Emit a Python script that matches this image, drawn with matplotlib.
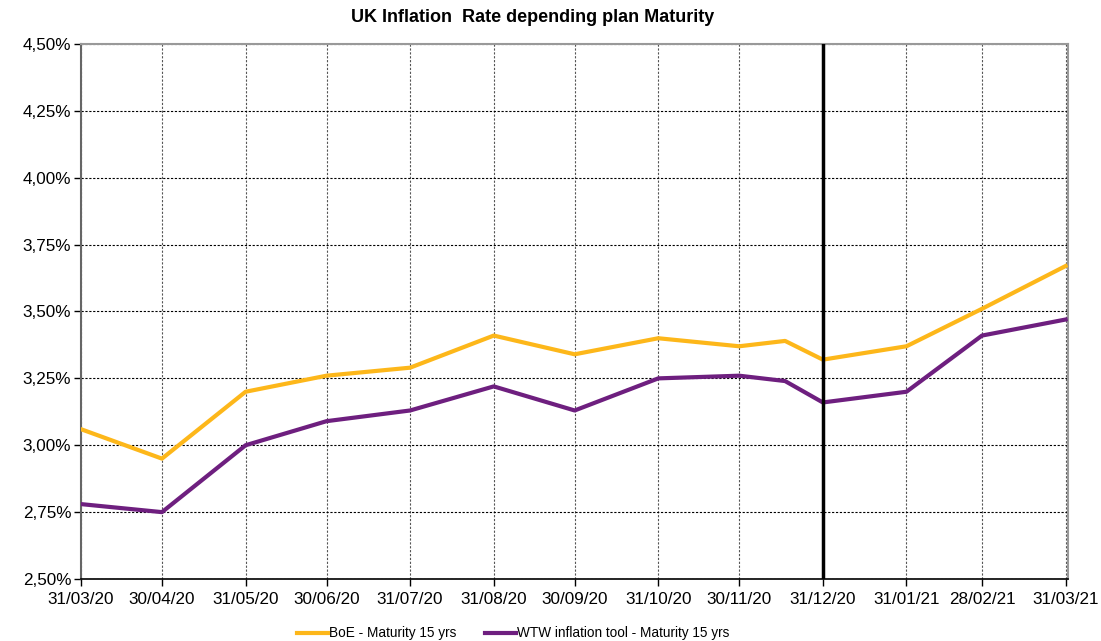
import numpy as np
import pandas as pd
import matplotlib.pyplot as plt
import matplotlib.dates as mdates
from matplotlib.ticker import FuncFormatter

plt.rcParams['font.family'] = ['Liberation Sans', 'DejaVu Sans']

dates = pd.to_datetime(['2020-03-31', '2020-04-30', '2020-05-31', '2020-06-30', '2020-07-31',
                        '2020-08-31', '2020-09-30', '2020-10-31', '2020-11-30', '2020-12-17',
                        '2020-12-31', '2021-01-31', '2021-02-28', '2021-03-31'])
boe = [3.06, 2.95, 3.20, 3.26, 3.29, 3.41, 3.34, 3.40, 3.37, 3.39, 3.32, 3.37, 3.51, 3.67]
wtw = [2.78, 2.75, 3.00, 3.09, 3.13, 3.22, 3.13, 3.25, 3.26, 3.24, 3.16, 3.20, 3.41, 3.47]
tick_dates = pd.to_datetime(['2020-03-31', '2020-04-30', '2020-05-31', '2020-06-30', '2020-07-31',
                             '2020-08-31', '2020-09-30', '2020-10-31', '2020-11-30', '2020-12-31',
                             '2021-01-31', '2021-02-28', '2021-03-31'])
marker_date = pd.Timestamp('2020-12-31')

fig = plt.figure(figsize=(11.01, 6.41), dpi=100)
ax = fig.add_axes([0.0736, 0.0967, 0.8967, 0.8347])

ax.plot(dates, boe, color='#FDB71A', lw=3.0, label='BoE - Maturity 15 yrs', zorder=3)
ax.plot(dates, wtw, color='#6E1F7F', lw=3.0, label='WTW inflation tool - Maturity 15 yrs', zorder=3)
ax.axvline(marker_date, color='black', lw=2.5, zorder=4)

ax.set_ylim(2.5, 4.5)
ax.set_yticks(np.arange(2.5, 4.51, 0.25))
ax.yaxis.set_major_formatter(FuncFormatter(lambda v, p: f'{v:.2f}%'.replace('.', ',')))
ax.set_xlim(tick_dates[0], tick_dates[-1] + pd.Timedelta(days=1))
ax.set_xticks(tick_dates)
ax.xaxis.set_major_formatter(mdates.DateFormatter('%d/%m/%y'))

ax.grid(axis='y', color='black', ls=(0, (2, 1.5)), lw=0.8)
ax.grid(axis='x', color='#555555', ls=(0, (2, 1.5)), lw=0.8)
ax.tick_params(labelsize=12.3, length=5, width=1, color='black')
ax.tick_params(axis='x', pad=4)
ax.tick_params(axis='y', pad=2)

ax.spines['left'].set_color('#666666')
ax.spines['left'].set_linewidth(1.5)
ax.spines['bottom'].set_color('black')
ax.spines['bottom'].set_linewidth(1.2)
ax.spines['top'].set_color('#999999')
ax.spines['top'].set_linewidth(1.5)
ax.spines['right'].set_color('#999999')
ax.spines['right'].set_linewidth(1.5)

fig.text(533 / 1101, 1 - 18 / 641, 'UK Inflation  Rate depending plan Maturity', fontsize=13,
         fontweight='bold', ha='center', va='center')

fig.legend(loc='lower center', bbox_to_anchor=(513 / 1101, -0.018), ncol=2, frameon=False,
           fontsize=9.8, handlelength=2.3, handletextpad=0.05, columnspacing=2.1)

fig.savefig('out.png', dpi=100)
